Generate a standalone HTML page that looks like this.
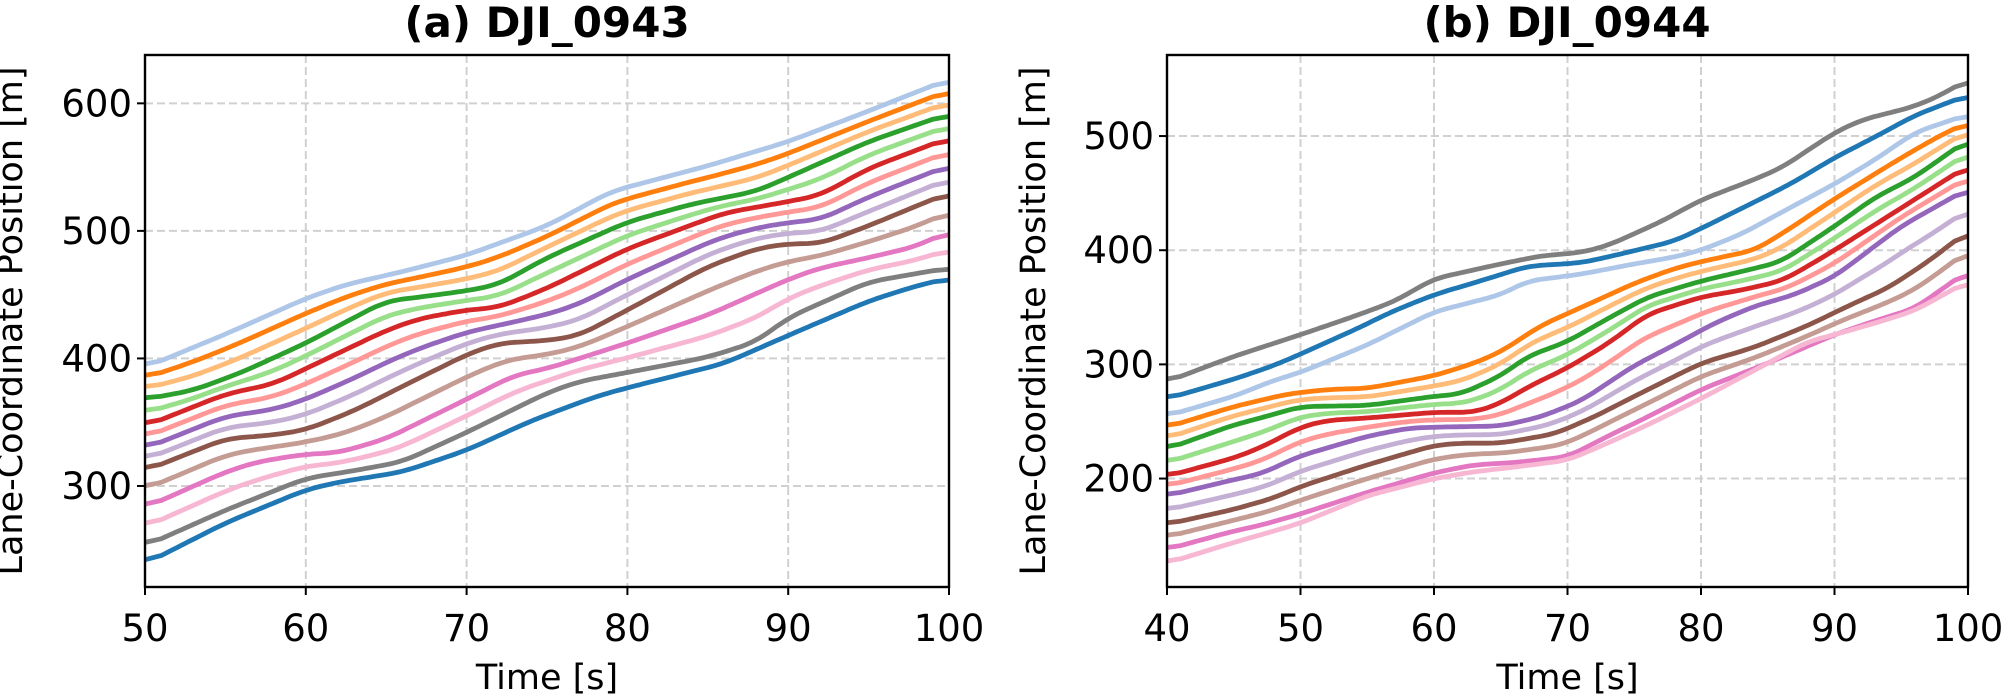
<!DOCTYPE html>
<html><head><meta charset="utf-8"><style>
html,body{margin:0;padding:0;background:#fff;}
svg{display:block;font-family:"DejaVu Sans","Liberation Sans",sans-serif;}
</style></head><body>
<svg id="s" width="2005" height="695" viewBox="0 0 2005 695" xmlns="http://www.w3.org/2000/svg"></svg>
<script>
const NS="http://www.w3.org/2000/svg";const S=document.getElementById('s');
function el(t,a,txt){const e=document.createElementNS(NS,t);for(const k in a)e.setAttribute(k,a[k]);if(txt!==undefined)e.textContent=txt;S.appendChild(e);return e;}
const colors=["#aec7e8","#ff7f0e","#ffbb78","#2ca02c","#98df8a","#d62728","#ff9896","#9467bd","#c5b0d5","#8c564b","#c49c94","#e377c2","#f7b6d2","#7f7f7f","#1f77b4"];
const colorsB=["#7f7f7f","#1f77b4","#aec7e8","#ff7f0e","#ffbb78","#2ca02c","#98df8a","#d62728","#ff9896","#9467bd","#c5b0d5","#8c564b","#c49c94","#e377c2","#f7b6d2"];
function interp(pts,t){if(t<=pts[0][0])return pts[0][1];for(let i=1;i<pts.length;i++){if(t<=pts[i][0]){const a=pts[i-1],b=pts[i];return a[1]+(b[1]-a[1])*(t-a[0])/(b[0]-a[0]);}}return pts[pts.length-1][1];}
function series(anchors,t0,t1){const idx=Object.keys(anchors).map(Number).sort((a,b)=>a-b);const out=[];
 for(let k=0;k<15;k++){let lo=idx[0],hi=idx[idx.length-1];for(const i of idx){if(i<=k)lo=i;}for(const i of idx.slice().reverse()){if(i>=k)hi=i;}
  const arr=[];for(let t=t0;t<=t1+1e-9;t+=0.25){const a=interp(anchors[lo],t),b=interp(anchors[hi],t);const f=hi===lo?0:(k-lo)/(hi-lo);arr.push([t,a+(b-a)*f]);}
  const sm=arr.map((p,i)=>{let s=0,n=0;for(let j=-4;j<=4;j++){const q=arr[i+j];if(q){s+=q[1];n++;}}return [p[0],s/n];});
  out.push(sm);}return out;}
function panel(o){const {L,R,T,B,t0,t1,v0,v1,xt,yt,title,cx,ylx,anchors,cols}=o;
 const X=t=>L+(t-t0)/(t1-t0)*(R-L),Y=v=>B-(v-v0)/(v1-v0)*(B-T);
 for(const t of xt){if(t>t0&&t<t1)el('line',{x1:X(t),x2:X(t),y1:T,y2:B,stroke:'#d0d0d0','stroke-width':2,'stroke-dasharray':'8,4'});}
 for(const v of yt){el('line',{x1:L,x2:R,y1:Y(v),y2:Y(v),stroke:'#d0d0d0','stroke-width':2,'stroke-dasharray':'8,4'});}
 const ser=series(anchors,t0,t1);
 ser.forEach((s,i)=>{el('polyline',{points:s.map(p=>X(p[0]).toFixed(1)+','+Y(p[1]).toFixed(1)).join(' '),fill:'none',stroke:cols[i],'stroke-width':4.8,'stroke-linejoin':'round'});});
 el('rect',{x:L,y:T,width:R-L,height:B-T,fill:'none',stroke:'#000','stroke-width':2.4});
 for(const t of xt){el('line',{x1:X(t),x2:X(t),y1:B,y2:B+8,stroke:'#000','stroke-width':2});el('text',{x:X(t),y:B+54,'text-anchor':'middle','font-size':37},String(t));}
 for(const v of yt){el('line',{x1:L,x2:L-8,y1:Y(v),y2:Y(v),stroke:'#000','stroke-width':2});el('text',{x:L-13,y:Y(v)+13,'text-anchor':'end','font-size':37},String(v));}
 el('text',{x:(L+R)/2,y:689,'text-anchor':'middle','font-size':35},'Time [s]');
 el('text',{x:0,y:0,'text-anchor':'middle','font-size':35,transform:`translate(${ylx},${(T+B)/2}) rotate(-90)`},'Lane-Coordinate Position [m]');
 el('text',{x:cx,y:37,'text-anchor':'middle','font-size':42,'font-weight':'bold'},title);}
const A={
0:[[50,393],[55,419],[60,447],[62.5,458],[66,468],[70,481],[75,504],[79,531],[85,551],[90,570],[95,594],[100,619]],
3:[[50,368],[53,375],[56,389],[60,412],[63,432],[65,445],[67,448],[70,453],[72,458],[75,479],[80,507],[84,521],[88,531],[90,542],[95,570],[100,592]],
5:[[50,347],[55,372],[58,380],[60,392],[65,422],[67,431],[70,438],[72,440],[75,455],[80,486],[86,514],[90,523],[92,528],[95,549],[100,573]],
9:[[50,312],[55,337],[58,340],[60,344],[63,359],[66,378],[70,403],[72,412],[75,414],[77,418],[80,438],[85,472],[88,486],[90,490],[92,490],[95,504],[100,530]],
11:[[50,283],[55,311],[57,319],[60,325],[62,326],[65,337],[70,368],[73,387],[75,392],[80,412],[85,434],[90,462],[92,471],[95,479],[98,488],[100,500]],
13:[[50,253],[55,281],[60,306],[63,312],[66,319],[70,342],[75,373],[77,382],[80,389],[85,401],[88,413],[90,432],[95,460],[100,471]],
14:[[50,239],[55,271],[60,297],[62,303],[66,311],[70,328],[74,351],[78,370],[80,377],[86,396],[90,418],[95,445],[98,457],[100,463]]};
const Bn={
0:[[40,285],[45,307],[50,326],[54,342],[57,355],[60,375],[65,388],[68,395],[71,398],[73,404],[77,425],[80,444],[84,462],[86,472],[90,503],[92,514],[96,526],[98,536],[100,550]],
1:[[40,270],[45,287],[48,299],[50,309],[54,330],[57,347],[60,361],[64,375],[67,386],[71,389],[73,394],[78,408],[80,419],[85,448],[87,460],[90,481],[93,499],[96,518],[100,536]],
2:[[40,255],[45,272],[48,286],[50,293],[55,317],[60,346],[65,361],[67,373],[71,379],[75,388],[78,394],[80,400],[83,414],[86,433],[90,458],[93,479],[96,503],[100,519]],
3:[[40,245],[45,263],[49,274],[52,278],[55,279],[60,290],[63,301],[65,311],[68,334],[72,355],[75,371],[78,384],[80,390],[84,400],[86,414],[90,445],[95,481],[98,501],[100,512]],
5:[[40,226],[45,247],[47,253],[50,263],[55,264],[60,272],[62,274],[65,290],[67,307],[70,320],[73,340],[76,359],[80,373],[84,384],[86,390],[90,421],[93,446],[96,464],[100,497]],
7:[[40,202],[45,218],[47,227],[50,245],[52,251],[55,253],[60,258],[63,258],[65,266],[67,280],[70,297],[73,318],[76,344],[80,359],[83,365],[86,373],[88,386],[90,400],[95,437],[100,474]],
9:[[40,185],[45,199],[47,204],[50,220],[55,237],[58,244],[60,245],[65,246],[68,254],[71,268],[75,299],[78,317],[81,336],[84,351],[87,361],[90,377],[95,421],[100,454]],
11:[[40,160],[45,173],[48,183],[50,193],[55,212],[60,229],[62,231],[65,231],[69,239],[72,254],[75,272],[80,301],[84,315],[88,334],[91,351],[94,367],[97,390],[100,417]],
13:[[40,138],[45,154],[47,159],[50,169],[55,188],[60,205],[63,212],[66,214],[70,219],[73,237],[76,254],[80,278],[85,301],[90,326],[93,338],[96,349],[100,382]],
14:[[40,126],[45,144],[48,154],[50,161],[55,185],[60,200],[63,206],[66,210],[70,216],[73,231],[76,247],[80,270],[85,301],[88,320],[90,326],[93,336],[96,347],[100,373]]};
panel({L:145,R:949,T:55,B:587,t0:50,t1:100,v0:220.8,v1:637.9,xt:[50,60,70,80,90,100],yt:[300,400,500,600],title:'(a) DJI_0943',cx:547,ylx:22,anchors:A,cols:colors});
panel({L:1167,R:1968,T:55,B:587,t0:40,t1:100,v0:105,v1:571,xt:[40,50,60,70,80,90,100],yt:[200,300,400,500],title:'(b) DJI_0944',cx:1567,ylx:1045,anchors:Bn,cols:colorsB});
</script>
</body></html>
